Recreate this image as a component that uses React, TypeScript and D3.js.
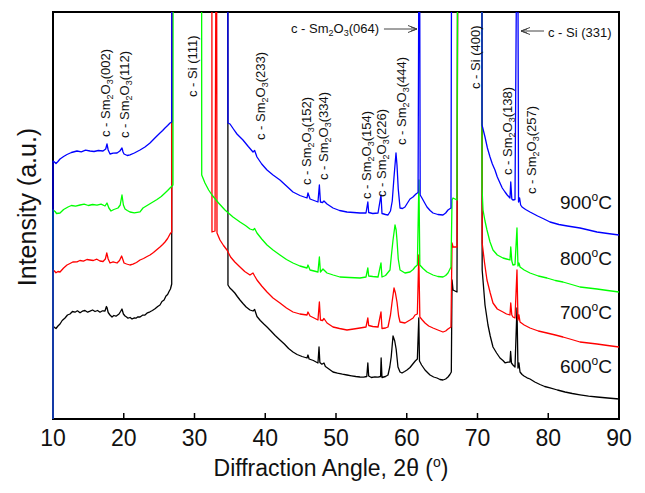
import React from "react";
import * as d3 from "d3";

// XRD patterns of Sm2O3 films on Si annealed at four temperatures.
// Each series: [2θ (deg), intensity (a.u.)]; 6000 marks counts beyond the plotted range.
const black600: [number, number][] = [
  [10.0, 0], [10.0, 930], [10.2, 915], [10.42, 905], [10.7, 930], [10.99, 950], [11.3, 985], [11.7, 1010], [12.05, 1040], [12.4, 1050],
  [12.75, 1075], [13.11, 1068], [13.45, 1082], [13.82, 1062], [14.15, 1078], [14.52, 1085], [14.9, 1068], [15.23, 1078], [15.6, 1090], [15.94, 1075],
  [16.3, 1085], [16.64, 1068], [17.0, 1082], [17.35, 1080], [17.55, 1125], [17.63, 1115], [17.8, 1065], [18.05, 1040], [18.34, 1020], [18.6, 1035],
  [18.9, 1028], [19.33, 1050], [19.55, 1075], [19.75, 1100], [19.95, 1050], [20.18, 1030], [20.4, 1020], [20.6, 1008], [20.9, 1015], [21.17, 1000],
  [21.5, 1012], [21.73, 1008], [22.0, 1022], [22.3, 1020], [22.65, 1038], [23.0, 1040], [23.35, 1062], [23.71, 1072], [24.05, 1085], [24.42, 1102],
  [24.8, 1125], [25.12, 1140], [25.4, 1175], [25.7, 1190], [25.97, 1230], [26.2, 1245], [26.4, 1275], [26.6, 1300], [26.78, 1350], [26.8, 6000],
  [34.7, 6000], [34.73, 1340], [35.0, 1310], [35.3, 1290], [35.7, 1260], [36.05, 1225], [36.43, 1190], [36.85, 1155], [37.3, 1120], [37.84, 1090],
  [38.27, 1080], [38.5, 1095], [38.83, 1025], [39.3, 985], [39.8, 950], [40.25, 920], [40.8, 880], [41.4, 835], [42.08, 790], [42.7, 750],
  [43.3, 705], [43.92, 670], [44.5, 645], [45.2, 625], [45.9, 610], [46.04, 640], [46.2, 600], [46.8, 585], [47.45, 560], [47.6, 720],
  [47.72, 565], [48.0, 548], [48.3, 560], [48.5, 525], [48.9, 505], [49.58, 470], [50.2, 458], [50.9, 448], [51.55, 440], [52.2, 432],
  [52.8, 425], [53.39, 420], [53.9, 418], [54.35, 425], [54.5, 560], [54.62, 430], [55.0, 415], [55.5, 422], [55.94, 418], [56.3, 425],
  [56.38, 610], [56.5, 415], [57.0, 425], [57.35, 440], [57.6, 520], [57.8, 620], [58.06, 830], [58.3, 780], [58.5, 700], [58.76, 520],
  [59.05, 470], [59.33, 460], [59.7, 475], [60.03, 490], [60.46, 515], [60.8, 545], [61.2, 580], [61.5, 600], [61.7, 1010], [61.8, 580],
  [62.1, 540], [62.58, 490], [63.0, 460], [63.29, 440], [63.8, 420], [64.27, 410], [64.7, 395], [65.12, 390], [65.5, 400], [65.83, 420],
  [66.1, 445], [66.3, 470], [66.4, 1390], [66.54, 1290], [67.1, 1270], [67.24, 6000], [70.62, 6000], [70.66, 1490], [71.06, 1140], [71.48, 940],
  [71.8, 830], [72.19, 720], [72.7, 660], [73.18, 610], [73.6, 585], [73.89, 562], [74.3, 568], [74.59, 570], [74.68, 675], [74.8, 560],
  [75.01, 540], [75.3, 520], [75.58, 1110], [75.72, 510], [75.86, 560], [76.01, 470], [76.3, 445], [76.57, 430], [77.0, 412], [77.42, 400],
  [78.1, 370], [78.83, 345], [79.5, 325], [80.25, 312], [81.3, 290], [82.37, 270], [83.4, 255], [84.49, 242], [85.7, 228], [86.89, 220],
  [88.4, 210], [90.0, 200],
];

const red700: [number, number][] = [
  [10.0, 0], [10.0, 1490], [10.2, 1480], [10.42, 1462], [10.7, 1475], [10.99, 1470], [11.5, 1510], [11.98, 1540], [12.4, 1555], [12.8, 1570],
  [13.39, 1572], [13.8, 1585], [14.3, 1578], [14.8, 1595], [15.23, 1590], [15.7, 1585], [16.2, 1598], [16.64, 1580], [17.07, 1575], [17.4, 1600],
  [17.6, 1660], [17.8, 1600], [18.06, 1560], [18.5, 1572], [19.05, 1560], [19.4, 1585], [19.7, 1630], [19.9, 1590], [20.04, 1560], [20.4, 1550],
  [20.88, 1540], [21.3, 1548], [21.8, 1565], [22.3, 1590], [22.8, 1605], [23.3, 1625], [23.71, 1640], [24.2, 1665], [24.7, 1695], [25.12, 1720],
  [25.5, 1745], [25.83, 1770], [26.2, 1805], [26.54, 1850], [26.78, 1870], [26.8, 6000], [32.45, 6000], [32.47, 1870], [32.9, 1880], [33.1, 6000],
  [33.18, 1860], [33.6, 1790], [34.1, 1735], [34.59, 1690], [35.1, 1620], [35.7, 1570], [36.43, 1520], [37.1, 1475], [37.84, 1440], [38.27, 1460],
  [38.5, 1430], [38.83, 1390], [39.5, 1330], [40.25, 1270], [41.1, 1210], [42.08, 1160], [43.0, 1110], [43.92, 1070], [44.9, 1050], [45.9, 1040],
  [46.04, 1070], [46.33, 1030], [46.9, 1010], [47.45, 990], [47.65, 1170], [47.8, 990], [48.1, 985], [48.3, 1005], [48.73, 960], [49.58, 920],
  [50.5, 905], [51.55, 890], [52.5, 900], [53.39, 910], [54.24, 920], [54.5, 1010], [54.62, 935], [55.2, 925], [55.94, 920], [56.36, 1070],
  [56.5, 905], [57.0, 910], [57.35, 920], [57.7, 1040], [57.91, 1160], [58.2, 1310], [58.4, 1260], [58.62, 1170], [58.85, 1030], [59.05, 970],
  [59.75, 960], [60.46, 990], [60.9, 1010], [61.17, 1040], [61.5, 1050], [61.7, 1640], [61.85, 1020], [62.2, 990], [62.58, 960], [63.1, 930],
  [63.71, 910], [64.4, 890], [65.12, 870], [65.5, 880], [65.83, 900], [66.25, 920], [66.4, 1760], [66.54, 1720], [67.1, 1720], [67.24, 6000],
  [70.62, 6000], [70.66, 1760], [71.0, 1560], [71.34, 1390], [71.8, 1260], [72.19, 1160], [72.8, 1100], [73.6, 1070], [74.1, 1050], [74.59, 1040],
  [74.7, 1160], [74.85, 1040], [75.01, 1020], [75.3, 1010], [75.58, 1490], [75.72, 990], [75.86, 1040], [76.01, 970], [76.6, 940], [77.42, 910],
  [78.6, 880], [79.82, 860], [81.0, 840], [82.08, 820], [83.3, 795], [84.49, 770], [85.7, 760], [86.89, 750], [88.4, 735], [90.0, 720],
];

const green800: [number, number][] = [
  [10.0, 0], [10.0, 2090], [10.3, 2075], [10.5, 2055], [10.99, 2060], [11.5, 2095], [12.12, 2120], [12.6, 2135], [13.2, 2128], [13.82, 2140],
  [14.4, 2148], [15.0, 2135], [15.6, 2145], [16.22, 2138], [16.8, 2148], [17.35, 2130], [17.63, 2160], [17.9, 2110], [18.2, 2080], [18.6, 2095],
  [19.19, 2110], [19.5, 2140], [19.75, 2240], [19.95, 2140], [20.18, 2100], [20.5, 2085], [20.88, 2070], [21.5, 2062], [22.3, 2072], [22.72, 2110],
  [23.3, 2135], [24.0, 2165], [24.7, 2195], [25.3, 2225], [25.83, 2260], [26.2, 2285], [26.54, 2310], [26.96, 2340], [26.98, 6000], [31.0, 6000],
  [31.02, 2440], [31.48, 2360], [32.0, 2290], [32.47, 2240], [33.4, 2160], [34.31, 2090], [35.44, 2020], [36.43, 1970], [37.2, 1935], [37.84, 1900],
  [38.27, 1890], [38.5, 1905], [38.83, 1860], [39.5, 1800], [40.25, 1740], [41.1, 1690], [42.08, 1640], [43.0, 1595], [43.92, 1560], [44.9, 1530],
  [45.9, 1510], [46.04, 1540], [46.33, 1490], [46.9, 1480], [47.45, 1470], [47.65, 1620], [47.8, 1470], [48.16, 1500], [48.3, 1490], [48.73, 1460],
  [49.6, 1440], [50.56, 1420], [51.9, 1415], [53.39, 1410], [54.24, 1420], [54.5, 1510], [54.62, 1430], [55.2, 1425], [55.94, 1420], [56.36, 1560],
  [56.5, 1420], [57.0, 1435], [57.63, 1490], [57.85, 1650], [58.06, 1790], [58.34, 1940], [58.5, 1890], [58.62, 1790], [58.8, 1600], [59.05, 1490],
  [59.75, 1460], [60.46, 1470], [60.9, 1495], [61.17, 1520], [61.5, 1540], [61.72, 2390], [61.85, 1540], [62.3, 1505], [62.86, 1470], [63.71, 1440],
  [64.4, 1425], [65.12, 1420], [65.5, 1435], [65.83, 1460], [66.25, 1520], [66.4, 2190], [66.54, 2210], [67.1, 2190], [67.24, 6000], [70.62, 6000],
  [70.64, 2310], [70.78, 2090], [71.06, 1980], [71.34, 1890], [71.77, 1770], [72.19, 1690], [72.8, 1640], [73.6, 1610], [74.1, 1600], [74.59, 1590],
  [74.7, 1720], [74.85, 1580], [75.01, 1540], [75.3, 1545], [75.58, 1910], [75.72, 1530], [75.86, 1560], [76.01, 1520], [76.6, 1490], [77.42, 1460],
  [78.6, 1430], [79.82, 1410], [81.0, 1385], [82.08, 1370], [83.3, 1345], [84.49, 1320], [85.7, 1310], [86.89, 1300], [88.4, 1285], [90.0, 1270],
];

const blue900: [number, number][] = [
  [10.0, 0], [10.0, 2580], [10.2, 2570], [10.42, 2555], [10.7, 2575], [10.99, 2600], [11.5, 2625], [11.98, 2645], [12.6, 2665], [13.39, 2680],
  [14.0, 2672], [14.6, 2688], [15.23, 2680], [15.8, 2675], [16.4, 2685], [17.07, 2680], [17.45, 2700], [17.63, 2750], [17.8, 2690], [18.06, 2650],
  [18.5, 2658], [19.05, 2660], [19.45, 2680], [19.75, 2710], [19.9, 2670], [20.04, 2650], [20.5, 2635], [20.88, 2642], [21.5, 2660], [22.3, 2690],
  [23.0, 2720], [23.71, 2760], [24.4, 2810], [25.12, 2860], [25.5, 2885], [25.83, 2910], [26.2, 2935], [26.54, 2960], [26.78, 2970], [26.8, 6000],
  [34.7, 6000], [34.73, 2960], [35.02, 2950], [35.5, 2900], [36.0, 2850], [36.85, 2790], [37.6, 2725], [38.27, 2670], [38.5, 2685], [38.83, 2620],
  [39.5, 2550], [40.25, 2490], [41.1, 2440], [42.08, 2390], [43.0, 2330], [43.92, 2270], [44.9, 2235], [45.9, 2210], [46.04, 2260], [46.33, 2200],
  [46.9, 2185], [47.45, 2170], [47.65, 2340], [47.8, 2170], [48.1, 2165], [48.3, 2180], [48.73, 2150], [49.58, 2110], [50.5, 2085], [51.55, 2070],
  [52.5, 2065], [53.39, 2060], [54.24, 2060], [54.5, 2170], [54.62, 2065], [55.2, 2055], [55.94, 2060], [56.36, 2240], [56.5, 2055], [57.0, 2045],
  [57.35, 2040], [57.7, 2080], [57.95, 2180], [58.2, 2420], [58.48, 2660], [58.62, 2540], [58.8, 2300], [59.05, 2110], [59.4, 2105], [59.75, 2120],
  [60.1, 2160], [60.46, 2200], [60.88, 2220], [61.3, 2250], [61.6, 2265], [61.78, 6000], [61.9, 2240], [62.15, 2210], [62.5, 2165], [62.86, 2120],
  [63.3, 2085], [63.71, 2060], [64.4, 2045], [65.12, 2040], [65.5, 2060], [65.83, 2090], [66.25, 2110], [66.38, 6000], [70.62, 6000], [70.64, 2940],
  [71.06, 2820], [71.4, 2710], [71.77, 2620], [72.1, 2550], [72.47, 2490], [72.8, 2420], [73.18, 2360], [73.5, 2310], [73.89, 2270], [74.2, 2240],
  [74.59, 2210], [74.7, 2370], [74.85, 2200], [75.01, 2190], [75.3, 2195], [75.66, 6000], [75.8, 2170], [75.95, 2210], [76.1, 2140], [76.29, 2120],
  [76.8, 2095], [77.42, 2070], [78.5, 2030], [79.4, 2000], [80.25, 1970], [81.5, 1945], [82.7, 1930], [84.49, 1910], [85.7, 1890], [86.89, 1870],
  [88.4, 1855], [90.0, 1840],
];

const seriesData = [black600, red700, green800, blue900];
const seriesColors = ["#000000", "#ff0000", "#00ff00", "#0000ff"];
const seriesNames = ["600", "700", "800", "900"];
// intensity level at which each temperature label sits
const seriesLabelLevel = [380, 920, 1460, 2020];

const xTicks = [10, 20, 30, 40, 50, 60, 70, 80, 90];

// Rotated peak labels: reflection, position in 2θ and the intensity where the label starts
const peakHkl = ["(002)", "(112)", "Si (111)", "(233)", "(152)", "(334)", "(154)", "(226)", "(444)", "Si (400)", "(138)", "(257)"];
const peakAngle = [17.35, 20.04, 29.65, 39.26, 45.76, 48.3, 54.38, 56.5, 59.19, 69.65, 74.17, 77.7];
const peakLevel = [2820, 2810, 3220, 2790, 2340, 2390, 2200, 2220, 2740, 3300, 2440, 2250];

const W = 645;
const H = 493;
const FONT = "'Liberation Sans', Arial, Helvetica, sans-serif";

const x = d3.scaleLinear().domain([10, 90]).range([53, 619]);
const y = d3.scaleLinear().domain([0, 4070]).range([419, 12]);

const line = d3
  .line<[number, number]>()
  .x((d) => x(d[0]))
  .y((d) => y(d[1]));

function Sm2O3({ hkl }: { hkl: string }) {
  return (
    <>
      c - Sm<tspan fontSize={9} dy={3}>2</tspan>
      <tspan dy={-3}>O</tspan>
      <tspan fontSize={9} dy={3}>3</tspan>
      <tspan dy={-3}>{hkl}</tspan>
    </>
  );
}

function PeakLabel({ hkl, angle, level }: { hkl: string; angle: number; level: number }) {
  const px = x(angle) + 4.5;
  const py = y(level);
  return (
    <text transform={`translate(${px},${py}) rotate(-90)`} fontSize={13} fontFamily={FONT} fill="#111">
      {hkl.startsWith("Si") ? `c - ${hkl}` : <Sm2O3 hkl={hkl} />}
    </text>
  );
}

function Arrow({ from, to, level }: { from: number; to: number; level: number }) {
  const x0 = x(from);
  const x1 = x(to);
  const yy = y(level);
  const dir = x1 > x0 ? 1 : -1;
  const hx = x1 - dir * 9;
  return (
    <g stroke="#444" fill="none" strokeWidth={1}>
      <line x1={x0} y1={yy} x2={x1} y2={yy} />
      <path d={`M${hx},${yy - 3.5} L${x1},${yy} L${hx},${yy + 3.5}`} />
      <path d={`M${hx + dir * 3},${yy - 2} L${x1},${yy} L${hx + dir * 3},${yy + 2}`} />
    </g>
  );
}

export default function App() {
  const [x0, x1] = x.range();
  const [yb, yt] = y.range();
  return (
    <svg width={W} height={H} style={{ position: "absolute", left: 0, top: 0, background: "#fff" }}>
      <defs>
        <clipPath id="plot-clip">
          <rect x={x0 - 2} y={yt} width={x1 - x0 + 2} height={yb - yt + 1} />
        </clipPath>
      </defs>
      <rect x={0} y={0} width={W} height={H} fill="#fff" />

      {/* frame */}
      <rect x={x0} y={yt} width={x1 - x0} height={yb - yt} fill="none" stroke="#000" strokeWidth={2} />
      {xTicks.slice(1, -1).map((t) => (
        <line key={t} x1={x(t)} x2={x(t)} y1={yb} y2={yb - 6} stroke="#000" strokeWidth={1.5} />
      ))}

      {/* patterns */}
      <g clipPath="url(#plot-clip)">
        {seriesData.map((s, i) => (
          <path key={i} d={line(s) ?? ""} fill="none" stroke={seriesColors[i]} strokeWidth={1.3} strokeLinejoin="round" />
        ))}
      </g>

      {/* tick labels */}
      {xTicks.map((t) => (
        <text key={t} x={x(t)} y={446} textAnchor="middle" fontSize={23} fontFamily={FONT} fill="#111">
          {t}
        </text>
      ))}
      <text x={(x0 + x1) / 2 - 5} y={476} textAnchor="middle" fontSize={23} fontFamily={FONT} fill="#111">
        Diffraction Angle, 2θ (<tspan fontSize={14} dy={-9}>o</tspan>
        <tspan dy={9}>)</tspan>
      </text>
      <text transform={`translate(36,207) rotate(-90)`} textAnchor="middle" fontSize={25} fontFamily={FONT} fill="#111">
        Intensity (a.u.)
      </text>

      {/* temperature labels */}
      {seriesNames.map((n, i) => (
        <text key={n} x={612} y={y(seriesLabelLevel[i]) - 8} textAnchor="end" fontSize={19} fontFamily={FONT} fill="#111">
          {n}
          <tspan fontSize={12} dy={-8}>o</tspan>
          <tspan dy={8}>C</tspan>
        </text>
      ))}

      {/* peak assignments */}
      {peakHkl.map((h, i) => (
        <PeakLabel key={i} hkl={h} angle={peakAngle[i]} level={peakLevel[i]} />
      ))}
      <text x={x(56.08)} y={y(3860)} textAnchor="end" fontSize={13} fontFamily={FONT} fill="#111">
        <Sm2O3 hkl="(064)" />
      </text>
      <Arrow from={56.78} to={61.45} level={3900} />
      <text x={x(79.96)} y={y(3820)} fontSize={13} fontFamily={FONT} fill="#111">
        c - Si (331)
      </text>
      <Arrow from={79.4} to={76.15} level={3880} />
    </svg>
  );
}
